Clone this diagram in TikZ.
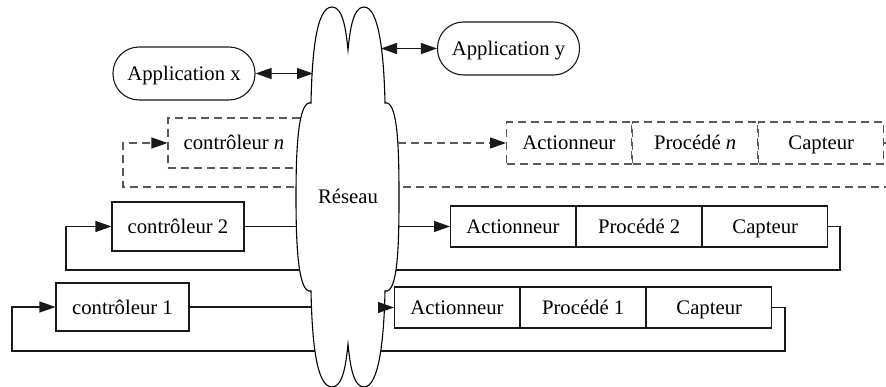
\documentclass[tikz,border=0pt]{standalone}
\usepackage{fontspec}
\setmainfont{Liberation Serif}
\usetikzlibrary{arrows.meta}
\begin{document}
\begin{tikzpicture}[x=1pt,y=-1pt,
  font=\fontsize{20.7}{24}\selectfont,
  txt/.style={text height=14pt, text depth=0pt},
  line/.style={line width=1.1pt, draw=black!90},
  dline/.style={line width=1.1pt, draw=black!65, dash pattern=on 8pt off 5pt},
  tip/.style={-{Triangle[length=16pt,width=11pt,color=black!90]}},
  bitip/.style={{Triangle[length=16pt,width=11pt]}-{Triangle[length=16pt,width=11pt]}},
  ctrl/.style={txt, draw=black!90, line width=1.1pt, fill=white, minimum width=132pt, minimum height=49pt, inner sep=0pt},
  cell/.style={txt, draw=black!90, line width=1.1pt, fill=white, minimum width=125pt, minimum height=41pt, inner sep=0pt},
  dcell/.style={cell, draw=black!65, dash pattern=on 8pt off 5pt},
  app/.style={txt, draw=black!90, line width=1.1pt, rounded corners=26pt, minimum width=142pt, minimum height=53pt, inner sep=0pt},
  cloudline/.style={line width=1.1pt, draw=black, fill=white}
]
\path[use as bounding box, clip] (0,0) rectangle (886,387);

% applications
\node[app] (appx) at (184,73.5) {Application x};
\node[app] (appy) at (508.5,48.5) {Application y};

% controllers
\node[ctrl, draw=black!65, dash pattern=on 8pt off 5pt, minimum height=50pt] (cn) at (234,143) {contr\^oleur \textit{n}};
\node[ctrl] (c2) at (178,226.5) {contr\^oleur 2};
\node[ctrl, minimum width=133pt, minimum height=48pt] (c1) at (122.5,307) {contr\^oleur 1};

% process rows
\node[dcell, minimum height=42pt, anchor=west] (an) at (506,143) {Actionneur};
\node[dcell, minimum height=42pt, anchor=west] (pn) at (an.east) {Proc\'ed\'e \textit{n}};
\node[dcell, minimum height=42pt, anchor=west] (kn) at (pn.east) {Capteur};

\node[cell, anchor=west] (a2) at (450,226.5) {Actionneur};
\node[cell, anchor=west] (p2) at (a2.east) {Proc\'ed\'e 2};
\node[cell, anchor=west] (k2) at (p2.east) {Capteur};

\node[cell, anchor=west] (a1) at (394,307.5) {Actionneur};
\node[cell, anchor=west] (p1) at (a1.east) {Proc\'ed\'e 1};
\node[cell, anchor=west] (k1) at (p1.east) {Capteur};

% feedback loops (behind the network)
\draw[dline, tip] (kn.east) -- (905,143) -- (905,187) -- (123,187) |- (cn.west);
\draw[line, tip] (k2.east) -- (840,226.5) -- (840,270) -- (66,270) |- (c2.west);
\draw[line, tip] (k1.east) -- (785,307.5) -- (785,351) -- (12,351) |- (c1.west);

% network cloud
\draw[cloudline] (311,103) .. controls (312,55) and (316,7) .. (332,7)
  .. controls (343,7) and (346,30) .. (348,50)
  .. controls (350,30) and (353,7) .. (364,7)
  .. controls (379,7) and (384,55) .. (385,103)
  .. controls (398,100) and (399,150) .. (399,197)
  .. controls (399,244) and (398,294) .. (385,291)
  .. controls (384,339) and (379,387) .. (364,387)
  .. controls (353,387) and (350,364) .. (348,344)
  .. controls (346,364) and (343,387) .. (332,387)
  .. controls (316,387) and (312,339) .. (311,291)
  .. controls (298,294) and (296,244) .. (296,197)
  .. controls (296,150) and (298,100) .. (311,103) -- cycle;
\node[txt] (net) at (348,197) {R\'eseau};

% edge points of the network
\coordinate (nxl) at (313,73.5);
\coordinate (nyr) at (381,48.5);
\coordinate (nnr) at (398,143);
\coordinate (n2l) at (296.5,226.5);
\coordinate (n2r) at (398.5,226.5);
\coordinate (n1l) at (311.5,307);
\coordinate (n1r) at (384.5,307.5);

% connectors
\draw[line, bitip] (appx.east) -- (nxl);
\draw[line, bitip] (nyr) -- (appy.west);
\draw[dline, tip] (nnr) -- (an.west);
\draw[line] (c2.east) -- (n2l);
\draw[line, tip] (n2r) -- (a2.west);
\draw[line] (c1.east) -- (n1l);
\draw[line, tip] (n1r) -- (a1.west);
\end{tikzpicture}
\end{document}
